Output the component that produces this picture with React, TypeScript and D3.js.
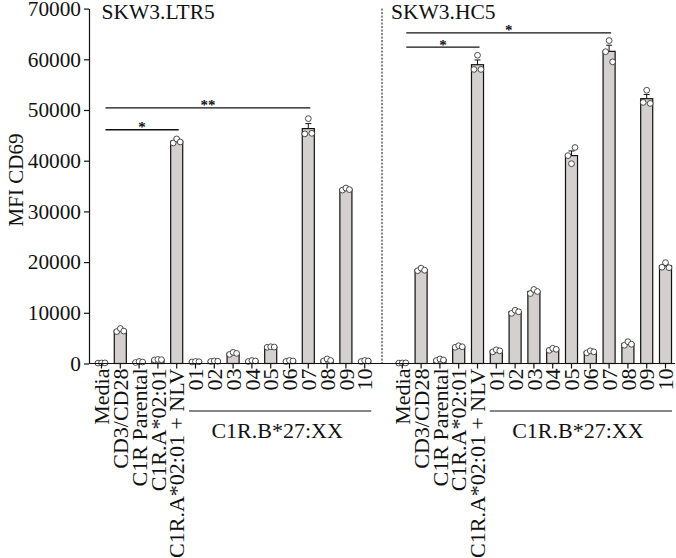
import React, { useEffect, useRef } from 'react';
import * as d3 from 'd3';

// category order within each panel
const categories = [
  'Media', 'CD3/CD28', 'C1R Parental', 'C1R.A*02:01', 'C1R.A*02:01 + NLV',
  '01', '02', '03', '04', '05', '06', '07', '08', '09', '10',
];
const groupedCats = ['01', '02', '03', '04', '05', '06', '07', '08', '09', '10'];
const groupLabel = 'C1R.B*27:XX';

const panels = ['SKW3.LTR5', 'SKW3.HC5'];

// three replicates per condition (MFI CD69)
const ltr5Replicates = [
  [80, 100, 120], [6300, 6900, 6400], [200, 400, 300], [700, 800, 750],
  [43500, 44300, 43700], [300, 400, 350], [400, 500, 450], [1800, 2200, 2000],
  [400, 600, 500], [3200, 3300, 3250], [400, 600, 500], [45300, 48300, 45400],
  [500, 900, 600], [34200, 34600, 34300], [400, 600, 500],
];
const hc5Replicates = [
  [80, 100, 120], [18300, 18800, 18400], [600, 900, 700], [3200, 3500, 3300],
  [58000, 60800, 58000], [2300, 2700, 2500], [9900, 10500, 10200], [13800, 14600, 14200],
  [2600, 3000, 2800], [41000, 39400, 42600], [2100, 2500, 2300], [61500, 63700, 59500],
  [3600, 4300, 3800], [51500, 53900, 51300], [19000, 19900, 18900],
];

const yTicks = [0, 10000, 20000, 30000, 40000, 50000, 60000, 70000];

const brackets = [
  { panel: 'SKW3.LTR5', from: 'Media', to: 'C1R.A*02:01 + NLV', level: 46100, label: '*' },
  { panel: 'SKW3.LTR5', from: 'Media', to: '07', level: 50400, label: '**' },
  { panel: 'SKW3.HC5', from: 'Media', to: 'C1R.A*02:01 + NLV', level: 62400, label: '*' },
  { panel: 'SKW3.HC5', from: 'Media', to: '07', level: 65200, label: '*' },
];

const FONT = '"Liberation Serif", "Times New Roman", serif';

export default function App() {
  const svgRef = useRef<SVGSVGElement>(null);

  useEffect(() => {
    document.body.style.margin = '0';
    if (!svgRef.current) return;
    const svg = d3.select(svgRef.current);
    svg.selectAll('*').remove();

    const axisLeft = 89;
    const axisRight = 675;
    const y0 = 363.5;
    const yTop = 8.6;

    const keys = [
      ...categories.map(c => `${panels[0]}|${c}`),
      'gap',
      ...categories.map(c => `${panels[1]}|${c}`),
    ];

    const x = d3.scaleBand<string>()
      .domain(keys)
      .range([90.5, 676.5])
      .paddingInner(0.36)
      .paddingOuter(0.265);
    const bw = x.bandwidth();
    const cx = (k: string) => x(k)! + bw / 2;

    const y = d3.scaleLinear().domain([0, 70000]).range([y0, yTop]);
    const dividerX = cx('gap') - 1.5;

    const rows = [
      ...categories.map((c, i) => ({ key: `${panels[0]}|${c}`, reps: ltr5Replicates[i] })),
      ...categories.map((c, i) => ({ key: `${panels[1]}|${c}`, reps: hc5Replicates[i] })),
    ].map(r => {
      const mean = d3.mean(r.reps)!;
      const sem = d3.deviation(r.reps)! / Math.sqrt(r.reps.length);
      return { ...r, mean, sem };
    });

    // bars
    svg.append('g')
      .selectAll('rect')
      .data(rows)
      .enter()
      .append('rect')
      .attr('x', d => x(d.key)!)
      .attr('y', d => y(d.mean))
      .attr('width', bw)
      .attr('height', d => y0 - y(d.mean))
      .attr('fill', '#d3d0cf')
      .attr('stroke', '#111')
      .attr('stroke-width', 1.2);

    // error bars (SEM, upper only)
    const err = svg.append('g').attr('stroke', '#111').attr('stroke-width', 1);
    err.selectAll('line.v')
      .data(rows)
      .enter()
      .append('line')
      .attr('class', 'v')
      .attr('x1', d => cx(d.key))
      .attr('x2', d => cx(d.key))
      .attr('y1', d => y(d.mean))
      .attr('y2', d => y(d.mean + d.sem));
    err.selectAll('line.c')
      .data(rows)
      .enter()
      .append('line')
      .attr('class', 'c')
      .attr('x1', d => cx(d.key) - 3)
      .attr('x2', d => cx(d.key) + 3)
      .attr('y1', d => y(d.mean + d.sem))
      .attr('y2', d => y(d.mean + d.sem));

    // replicate points
    const offsets = [-3.5, 0, 3.5];
    const pts = rows.flatMap(r => r.reps.map((v, i) => ({ key: r.key, v, i })));
    svg.append('g')
      .selectAll('circle')
      .data(pts)
      .enter()
      .append('circle')
      .attr('cx', d => cx(d.key) + offsets[d.i])
      .attr('cy', d => y(d.v))
      .attr('r', 2.9)
      .attr('fill', 'white')
      .attr('stroke', '#222')
      .attr('stroke-width', 0.8);

    // y axis
    const yAxis = svg.append('g')
      .attr('transform', `translate(${axisLeft},0)`)
      .call(d3.axisLeft(y).tickValues(yTicks).tickSize(5).tickSizeOuter(0).tickPadding(3).tickFormat(d3.format('d')));
    yAxis.select('.domain').attr('stroke', '#111').attr('stroke-width', 1.2);
    yAxis.selectAll('.tick line').attr('stroke', '#111').attr('stroke-width', 1.2);
    yAxis.selectAll('.tick text')
      .style('font-family', FONT)
      .style('font-size', '21.3px')
      .attr('fill', '#111');

    // x axis
    const xAxis = svg.append('g')
      .attr('transform', `translate(0,${y0})`)
      .call(d3.axisBottom(x).tickValues(keys.filter(k => k !== 'gap')).tickSize(5).tickSizeOuter(0).tickFormat(() => ''));
    xAxis.select('.domain').remove();
    xAxis.selectAll('.tick line').attr('stroke', '#111').attr('stroke-width', 1.2);
    svg.append('line')
      .attr('x1', axisLeft).attr('x2', axisRight)
      .attr('y1', y0).attr('y2', y0)
      .attr('stroke', '#111').attr('stroke-width', 1.2);

    // category labels
    svg.append('g')
      .selectAll('text')
      .data(keys.filter(k => k !== 'gap'))
      .enter()
      .append('text')
      .attr('transform', d => `translate(${cx(d)},${y0 + 5}) rotate(-90)`)
      .attr('text-anchor', 'end')
      .attr('dy', '0.35em')
      .style('font-family', FONT)
      .style('font-size', '22px')
      .attr('fill', '#111')
      .text(d => d.split('|')[1]);

    // grouping line + label under 01..10
    panels.forEach(p => {
      const xa = x(`${p}|${groupedCats[0]}`)! - 0.5;
      const xb = x(`${p}|${groupedCats[groupedCats.length - 1]}`)! + bw + 0.5;
      svg.append('line')
        .attr('x1', xa).attr('x2', xb)
        .attr('y1', 411).attr('y2', 411)
        .attr('stroke', '#111').attr('stroke-width', 1.2);
      svg.append('text')
        .attr('x', (xa + xb) / 2 - 3)
        .attr('y', 438)
        .attr('text-anchor', 'middle')
        .style('font-family', FONT)
        .style('font-size', '22px')
        .attr('fill', '#111')
        .text(groupLabel);
    });

    // panel divider
    svg.append('line')
      .attr('x1', dividerX).attr('x2', dividerX)
      .attr('y1', yTop).attr('y2', y0)
      .attr('stroke', '#111')
      .attr('stroke-width', 1)
      .attr('stroke-dasharray', '2,1.5');

    // panel titles
    const titleX = [axisLeft + 12.5, dividerX + 9];
    svg.selectAll('text.title')
      .data(panels)
      .enter()
      .append('text')
      .attr('class', 'title')
      .attr('x', (d, i) => titleX[i])
      .attr('y', 18.5)
      .style('font-family', FONT)
      .style('font-size', '21.5px')
      .attr('fill', '#111')
      .text(d => d);

    // significance brackets
    const br = svg.append('g');
    brackets.forEach(b => {
      const x1 = cx(`${b.panel}|${b.from}`) + 4;
      const x2 = cx(`${b.panel}|${b.to}`) + 2;
      br.append('line')
        .attr('x1', x1).attr('x2', x2)
        .attr('y1', y(b.level)).attr('y2', y(b.level))
        .attr('stroke', '#111').attr('stroke-width', 1.3);
      br.append('text')
        .attr('x', (x1 + x2) / 2)
        .attr('y', y(b.level) + 2.5)
        .attr('text-anchor', 'middle')
        .style('font-family', FONT)
        .style('font-size', '15px')
        .style('font-weight', 'bold')
        .attr('fill', '#111')
        .text(b.label);
    });

    // y axis title
    svg.append('text')
      .attr('transform', `translate(23,180) rotate(-90)`)
      .attr('text-anchor', 'middle')
      .style('font-family', FONT)
      .style('font-size', '21px')
      .attr('fill', '#111')
      .text('MFI CD69');
  }, []);

  return <svg ref={svgRef} width={676} height={558} style={{ display: 'block', background: 'white' }} />;
}
